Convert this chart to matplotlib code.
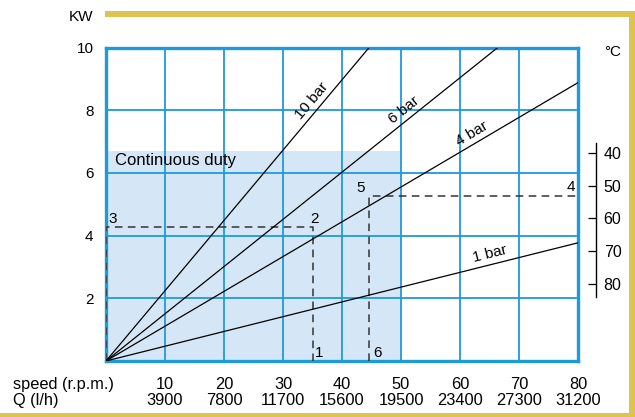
import numpy as np
import matplotlib
matplotlib.use("Agg")
import matplotlib.pyplot as plt
from matplotlib.patches import Rectangle
from matplotlib.transforms import blended_transform_factory

plt.rcParams['font.family'] = ['Liberation Sans', 'DejaVu Sans']

# ---- data ----
speed = [10, 20, 30, 40, 50, 60, 70, 80]
flow = [3900, 7800, 11700, 15600, 19500, 23400, 27300, 31200]
kw_ticks = [2, 4, 6, 8, 10]
temp_ticks = [40, 50, 60, 70, 80]

bar_names = ["10 bar", "6 bar", "4 bar", "1 bar"]
bar_x = [[0, 44.6], [0, 66.4], [0, 80], [0, 80]]
bar_y = [[0, 10], [0, 10], [0, 8.88], [0, 3.77]]
bar_label_pos = [(34.9, 8.29), (50.5, 8.0), (62.1, 7.24), (65.0, 3.41)]

duty_x = [0, 50]
duty_y = [0, 6.7]

rect_a_x = [0, 35.0, 35.0]
rect_a_y = [4.26, 4.26, 0]
rect_b_x = [44.5, 44.5, 80]
rect_b_y = [0, 5.27, 5.27]
point_labels = ["1", "2", "3", "4", "5", "6"]
point_pos = [(36.1, 0.14), (35.3, 4.40), (1.1, 4.40), (78.8, 5.42), (43.2, 5.40), (46.1, 0.12)]

# ---- style ----
W, H = 635, 417
BLUE = "#1f9ad8"
LIGHT = "#d5e7f6"
YEL = "#dcc44e"
FS = 11

fig = plt.figure(figsize=(W / 100, H / 100), dpi=100)
x0, x1, y0, y1 = 106, 578, 361, 47.5
ax = fig.add_axes([x0 / W, 1 - y0 / H, (x1 - x0) / W, (y0 - y1) / H])
ax.set_xlim(0, 80)
ax.set_ylim(0, 10)
ax.set_axisbelow(True)

ax.add_patch(Rectangle((duty_x[0], duty_y[0]), duty_x[1] - duty_x[0], duty_y[1] - duty_y[0],
                       facecolor=LIGHT, edgecolor='none', zorder=0.2))

ax.set_xticks(speed)
ax.set_xticklabels([])
ax.set_yticks(kw_ticks)
ax.set_yticklabels([str(v) for v in kw_ticks], fontsize=FS)
ax.tick_params(axis='x', length=0)
ax.tick_params(axis='y', length=0, pad=9)
ax.grid(True, color=BLUE, lw=1.3)
for sp in ax.spines.values():
    sp.set_color(BLUE)
    sp.set_linewidth(2.4)

# bottom rows (speed and flow) placed at the x-scale positions
btr = blended_transform_factory(ax.transData, fig.transFigure)
for s, q in zip(speed, flow):
    ax.text(s, 1 - 389 / H, str(s), transform=btr, ha='center', va='baseline', fontsize=11.8)
    ax.text(s, 1 - 405 / H, str(q), transform=btr, ha='center', va='baseline', fontsize=11.8)
fig.text(13 / W, 1 - 389 / H, "speed (r.p.m.)", fontsize=11.8, ha='left', va='baseline')
fig.text(13 / W, 1 - 405 / H, "Q (l/h)", fontsize=11.8, ha='left', va='baseline')

# dashed operating rectangles
DASH = (0, (5, 3.5))
ax.plot([0] + rect_a_x, [0] + rect_a_y, ls=DASH, color="#333333", lw=1.1, zorder=3)
ax.plot([0, rect_a_x[0]], [0, 0], ls=DASH, color="#333333", lw=1.1, zorder=3)
ax.plot(rect_b_x, rect_b_y, ls=DASH, color="#333333", lw=1.1, zorder=3)

# pressure lines
for name, xs, ys, (lx, ly) in zip(bar_names, bar_x, bar_y, bar_label_pos):
    ax.plot(xs, ys, color="black", lw=0.9, zorder=4)
    ang = np.degrees(np.arctan2(ys[1] - ys[0], xs[1] - xs[0]))
    sang = ax.transData.transform_angles(np.array([ang]), np.array([[lx, ly]]))[0]
    ax.text(lx, ly, name, rotation=sang, rotation_mode='anchor', ha='center', va='center',
            fontsize=FS, zorder=5)

ax.text(1.5, 6.41, "Continuous duty", fontsize=12, ha='left', va='center', zorder=5)

for lab, (px, py) in zip(point_labels, point_pos):
    ax.text(px, py, lab, fontsize=FS, ha='center', va='baseline', zorder=5)

fig.text(93 / W, 1 - 17 / H, "KW", fontsize=FS, ha='right', va='center')

# temperature scale
ty0, ty1 = 143, 297
ax2 = fig.add_axes([590 / W, 1 - ty1 / H, 6 / W, (ty1 - ty0) / H])
ax2.set_ylim(84, 37)
ax2.set_xlim(0, 1)
ax2.patch.set_visible(False)
for k in ['left', 'top', 'bottom']:
    ax2.spines[k].set_visible(False)
ax2.spines['right'].set_color('black')
ax2.spines['right'].set_linewidth(1.0)
ax2.set_xticks([])
ax2.yaxis.tick_right()
ax2.set_yticks(temp_ticks)
ax2.set_yticklabels([str(t) for t in temp_ticks], fontsize=11.5)
ax2.tick_params(axis='y', direction='in', length=6, width=0.9, pad=5.5)
fig.text(613 / W, 1 - 52.5 / H, "°C", fontsize=FS, ha='center', va='center')

# yellow frame
fig.patches.append(Rectangle((105 / W, 1 - 17.3 / H), (635 - 105) / W, 6.3 / H,
                             transform=fig.transFigure, facecolor=YEL, edgecolor='none'))
fig.patches.append(Rectangle((629 / W, 0), 6 / W, 1 - 11 / H,
                             transform=fig.transFigure, facecolor=YEL, edgecolor='none'))
fig.patches.append(Rectangle((0, 0), 1, 4.5 / H,
                             transform=fig.transFigure, facecolor=YEL, edgecolor='none'))

fig.savefig("out.png", dpi=100)
